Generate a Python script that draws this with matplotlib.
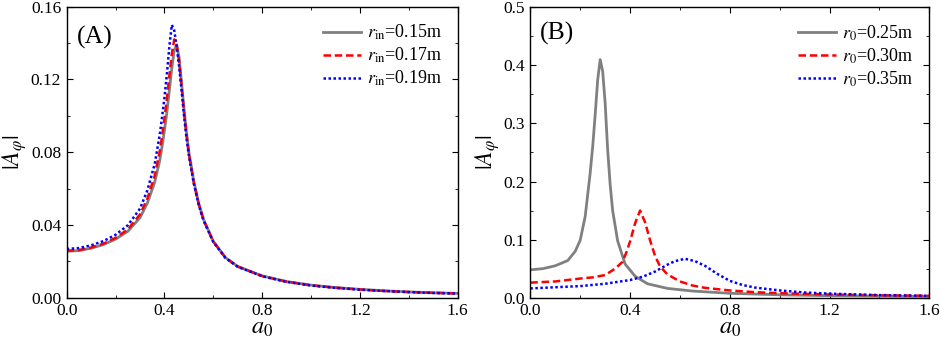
import matplotlib
matplotlib.use("Agg")
import matplotlib.pyplot as plt
from matplotlib.ticker import MultipleLocator, FormatStrFormatter

plt.rcParams.update({"font.family": "Liberation Serif", "mathtext.fontset": "stix",
                     "font.size": 12, "xtick.direction": "in", "ytick.direction": "in",
                     "xtick.top": True, "ytick.right": True,
                     "xtick.minor.visible": True, "ytick.minor.visible": True,
                     "xtick.major.size": 4, "ytick.major.size": 4,
                     "xtick.minor.size": 2.2, "ytick.minor.size": 2.2,
                     "axes.linewidth": 1.0})

GRAY, RED, BLUE = "#808080", "#ff0000", "#0000ff"

# panel A: varying r_in
xa = [0, 0.05, 0.1, 0.15, 0.2, 0.25, 0.3, 0.33, 0.36, 0.38, 0.39, 0.40, 0.41, 0.42,
      0.43, 0.44, 0.45, 0.46, 0.47, 0.48, 0.49, 0.50, 0.52, 0.54, 0.56, 0.6, 0.65,
      0.7, 0.8, 0.9, 1.0, 1.1, 1.2, 1.3, 1.4, 1.5, 1.6]
a_rin15 = [0.0255, 0.0259, 0.0272, 0.0292, 0.0322, 0.0365, 0.0440, 0.0520, 0.0635,
           0.0750, 0.0830, 0.0920, 0.1020, 0.1140, 0.1260, 0.1360, 0.1390, 0.1320,
           0.1180, 0.1040, 0.0910, 0.0800, 0.0640, 0.0520, 0.0430, 0.0310, 0.0220,
           0.0172, 0.0120, 0.0089, 0.0069, 0.0056, 0.0046, 0.0038, 0.0032, 0.0027, 0.0024]
a_rin17 = [0.0258, 0.0262, 0.0276, 0.0297, 0.0329, 0.0375, 0.0458, 0.0545, 0.0670,
           0.0800, 0.0885, 0.0985, 0.1095, 0.1220, 0.1340, 0.1420, 0.1390, 0.1300,
           0.1160, 0.1020, 0.0895, 0.0790, 0.0632, 0.0515, 0.0426, 0.0308, 0.0219,
           0.0171, 0.0119, 0.0088, 0.0068, 0.0055, 0.0045, 0.0037, 0.0031, 0.0027, 0.0023]
a_rin19 = [0.0268, 0.0273, 0.0288, 0.0311, 0.0346, 0.0398, 0.0490, 0.0590, 0.0735,
           0.0890, 0.0990, 0.1100, 0.1230, 0.1380, 0.1500, 0.1470, 0.1380, 0.1270,
           0.1140, 0.1000, 0.0880, 0.0780, 0.0628, 0.0512, 0.0424, 0.0306, 0.0218,
           0.0170, 0.0118, 0.0087, 0.0067, 0.0054, 0.0044, 0.0037, 0.0031, 0.0026, 0.0023]

# panel B: varying r_0
xb1 = [0, 0.05, 0.1, 0.15, 0.18, 0.2, 0.22, 0.24, 0.25, 0.26, 0.27, 0.28, 0.29, 0.30,
       0.31, 0.32, 0.33, 0.35, 0.38, 0.42, 0.47, 0.55, 0.65, 0.8, 1.0, 1.2, 1.4, 1.6]
b_r25 = [0.048, 0.050, 0.055, 0.064, 0.080, 0.099, 0.140, 0.215, 0.260, 0.315, 0.375,
         0.410, 0.390, 0.335, 0.255, 0.195, 0.150, 0.098, 0.058, 0.037, 0.024, 0.016,
         0.0115, 0.0076, 0.0050, 0.0035, 0.0027, 0.0021]
xb2 = [0, 0.1, 0.2, 0.25, 0.3, 0.34, 0.37, 0.385, 0.40, 0.42, 0.44, 0.46, 0.48, 0.50,
       0.52, 0.55, 0.60, 0.65, 0.7, 0.8, 0.9, 1.0, 1.2, 1.4, 1.6]
b_r30 = [0.026, 0.028, 0.033, 0.035, 0.039, 0.050, 0.062, 0.078, 0.097, 0.128, 0.150,
         0.130, 0.099, 0.072, 0.054, 0.040, 0.028, 0.021, 0.017, 0.0125, 0.0095,
         0.0078, 0.0055, 0.0042, 0.0033]
xb3 = [0, 0.1, 0.2, 0.3, 0.4, 0.45, 0.5, 0.55, 0.58, 0.62, 0.66, 0.7, 0.75, 0.8, 0.85,
       0.9, 1.0, 1.1, 1.2, 1.4, 1.6]
b_r35 = [0.016, 0.018, 0.020, 0.024, 0.0305, 0.036, 0.045, 0.057, 0.063, 0.067, 0.063,
         0.055, 0.041, 0.029, 0.022, 0.0175, 0.0125, 0.009, 0.007, 0.0045, 0.0032]

fig = plt.figure(figsize=(9.41, 3.42), dpi=100)
axA = fig.add_axes([0.0709, 0.1295, 0.4155, 0.851])
axB = fig.add_axes([0.5636, 0.1295, 0.424, 0.8492])

axA.plot(xa, a_rin15, color=GRAY, lw=2.0, label=r"$r_{\rm in}$=0.15m")
axA.plot(xa, a_rin17, color=RED, lw=1.8, ls=(0, (3, 1.5)), label=r"$r_{\rm in}$=0.17m")
axA.plot(xa, a_rin19, color=BLUE, lw=1.8, ls=(0, (1, 1)), label=r"$r_{\rm in}$=0.19m")
axA.set_ylim(0, 0.16)
axA.yaxis.set_major_locator(MultipleLocator(0.04))
axA.yaxis.set_minor_locator(MultipleLocator(0.02))
axA.yaxis.set_major_formatter(FormatStrFormatter("%.2f"))

axB.plot(xb1, b_r25, color=GRAY, lw=2.0, label=r"$r_0$=0.25m")
axB.plot(xb2, b_r30, color=RED, lw=1.8, ls=(0, (3, 1.5)), label=r"$r_0$=0.30m")
axB.plot(xb3, b_r35, color=BLUE, lw=1.8, ls=(0, (1, 1)), label=r"$r_0$=0.35m")
axB.set_ylim(0, 0.5)
axB.yaxis.set_major_locator(MultipleLocator(0.1))
axB.yaxis.set_minor_locator(MultipleLocator(0.05))
axB.yaxis.set_major_formatter(FormatStrFormatter("%.1f"))

for ax, tag, ty in [(axA, "(A)", 0.895), (axB, "(B)", 0.91)]:
    ax.set_xlim(0, 1.6)
    ax.xaxis.set_major_locator(MultipleLocator(0.4))
    ax.xaxis.set_minor_locator(MultipleLocator(0.2))
    ax.xaxis.set_major_formatter(FormatStrFormatter("%.1f"))
    ax.tick_params(labelsize=12.5, pad=4)
    ax.set_xlabel(r"$a_0$", fontsize=17.5, labelpad=-1)
    ax.set_ylabel(r"$|A_\varphi|$", fontsize=17, labelpad=1)
    ax.text(0.025, ty, tag, transform=ax.transAxes, fontsize=18.5, va="center")
    ax.legend(loc="upper right", frameon=False, fontsize=13, handlelength=2.1,
              handletextpad=0.3, labelspacing=0.2, borderaxespad=0.5)

fig.savefig("out.png", dpi=100)
